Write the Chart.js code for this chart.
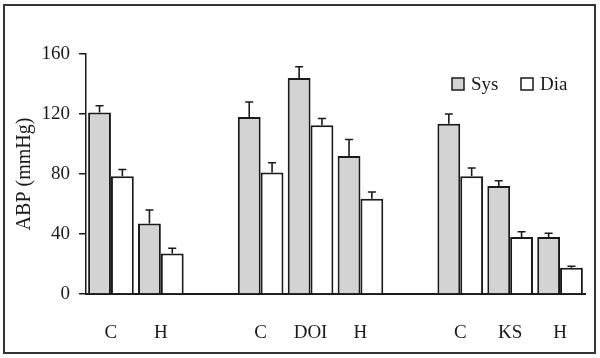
<!DOCTYPE html>
<html>
<head>
<meta charset="utf-8">
<script src="https://cdn.jsdelivr.net/npm/chart.js@4"></script>
<style>
  body { margin: 0; background: #fff; }
  canvas { display: block; }
</style>
</head>
<body>
<canvas id="abp-chart" width="600" height="358"></canvas>
<script>
// --- data ---
const categories = ['C', 'H', '', 'C', 'DOI', 'H', '', 'C', 'KS', 'H'];
const sysValues = [121, 47, null, 118, 144, 92, null, 113.5, 72, 38];
const sysErrors = [4.5, 9, null, 10, 7.5, 11, null, 6.5, 3.5, 2.5];
const diaValues = [78.5, 27, null, 81, 112.5, 63.5, null, 78.5, 38, 17.5];
const diaErrors = [4.5, 3.5, null, 6.5, 4.5, 4.5, null, 5.5, 3.5, 1];
const yMin = 0;
const yMax = 160;
const yStep = 40;

const FONT = 'Liberation Serif, Times New Roman, serif';
const INK = '#1a1a1a';

// error bars (upward only, with a cap)
const errorBars = {
    id: 'errorBars',
    afterDatasetsDraw(chart) {
        const ctx = chart.ctx;
        const yScale = chart.scales.y;
        ctx.save();
        ctx.strokeStyle = INK;
        ctx.lineWidth = 1.6;
        chart.data.datasets.forEach((ds, i) => {
            const meta = chart.getDatasetMeta(i);
            meta.data.forEach((bar, j) => {
                const v = ds.data[j];
                const e = ds.errors[j];
                if (v == null || e == null) return;
                const yTop = yScale.getPixelForValue(v + e);
                ctx.beginPath();
                ctx.moveTo(bar.x, bar.y);
                ctx.lineTo(bar.x, yTop);
                ctx.moveTo(bar.x - 4, yTop);
                ctx.lineTo(bar.x + 4, yTop);
                ctx.stroke();
            });
        });
        ctx.restore();
    }
};

// legend inside the plot, top right
const insideLegend = {
    id: 'insideLegend',
    afterDraw(chart) {
        const ctx = chart.ctx;
        const xs = [452, 521];
        const y = 78;
        ctx.save();
        ctx.font = '19px ' + FONT;
        ctx.textBaseline = 'middle';
        chart.data.datasets.forEach((ds, i) => {
            ctx.fillStyle = ds.backgroundColor;
            ctx.fillRect(xs[i], y, 12, 12);
            ctx.strokeStyle = INK;
            ctx.lineWidth = 1.5;
            ctx.strokeRect(xs[i], y, 12, 12);
            ctx.fillStyle = INK;
            ctx.fillText(ds.label, xs[i] + 19, y + 7);
        });
        ctx.restore();
    }
};

// frame around the whole figure
const frame = {
    id: 'frame',
    beforeDraw(chart) {
        const ctx = chart.ctx;
        ctx.save();
        ctx.fillStyle = '#fff';
        ctx.fillRect(0, 0, chart.width, chart.height);
        ctx.strokeStyle = '#333';
        ctx.lineWidth = 2;
        ctx.strokeRect(4, 5, 591, 348);
        ctx.restore();
    }
};

new Chart(document.getElementById('abp-chart'), {
    type: 'bar',
    data: {
        labels: categories,
        datasets: [
            { label: 'Sys', data: sysValues, errors: sysErrors, backgroundColor: '#d3d3d3', borderColor: INK, borderWidth: 2 },
            { label: 'Dia', data: diaValues, errors: diaErrors, backgroundColor: '#ffffff', borderColor: INK, borderWidth: 2 }
        ]
    },
    options: {
        responsive: false,
        animation: false,
        layout: { padding: { top: 54, right: 15, bottom: 0, left: 0 } },
        datasets: { bar: { categoryPercentage: 0.915, barPercentage: 1 } },
        plugins: { legend: { display: false }, tooltip: { enabled: false } },
        scales: {
            x: {
                grid: { display: false },
                border: { display: true, color: INK, width: 2 },
                ticks: { color: INK, font: { family: FONT, size: 19 }, padding: 20, maxRotation: 0, autoSkip: false },
                afterFit: (s) => { s.height = 64; }
            },
            y: {
                min: yMin,
                max: yMax,
                ticks: { stepSize: yStep, color: INK, font: { family: FONT, size: 19 }, padding: 9 },
                grid: { drawOnChartArea: false, drawTicks: true, tickLength: 7, color: INK, lineWidth: 1.5 },
                border: { display: true, color: INK, width: 1.5 },
                title: { display: true, text: 'ABP (mmHg)', color: INK, font: { family: FONT, size: 20 }, padding: { top: 13 } },
                afterFit: (s) => { s.width = 86; }
            }
        }
    },
    plugins: [frame, errorBars, insideLegend]
});
</script>
</body>
</html>
